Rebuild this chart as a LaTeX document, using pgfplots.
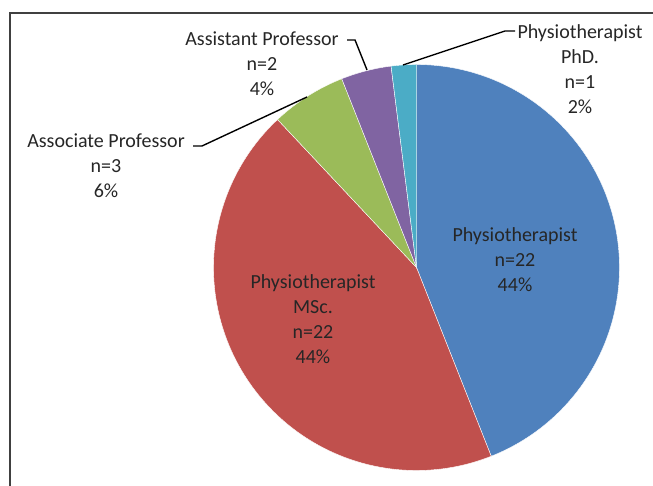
\documentclass[border=0pt]{standalone}
\usepackage{pgfplots}
\pgfplotsset{compat=1.18}
\usepackage{fontspec}
\setmainfont{Carlito}
\definecolor{cBlue}{HTML}{4F81BD}
\definecolor{cRed}{HTML}{C0504D}
\definecolor{cGreen}{HTML}{9BBB59}
\definecolor{cPurple}{HTML}{8064A2}
\definecolor{cCyan}{HTML}{4BACC6}
\definecolor{txt}{HTML}{262626}
% counts
\def\nA{22} % Physiotherapist
\def\nB{22} % Physiotherapist MSc.
\def\nC{3}  % Associate Professor
\def\nD{2}  % Assistant Professor
\def\nE{1}  % Physiotherapist PhD.
\pgfmathsetmacro\tot{\nA+\nB+\nC+\nD+\nE}
\pgfmathsetmacro\aA{90}
\pgfmathsetmacro\aB{\aA-360*\nA/\tot}
\pgfmathsetmacro\aC{\aB-360*\nB/\tot}
\pgfmathsetmacro\aD{\aC-360*\nC/\tot}
\pgfmathsetmacro\aE{\aD-360*\nD/\tot}
\pgfmathsetmacro\aF{\aE-360*\nE/\tot}
\def\cx{416.5}
\def\cy{218.5}
\def\rr{203}
\tikzset{lab/.style={font=\fontsize{20}{25}\selectfont, text=txt, align=center, inner sep=0pt}}
\begin{document}
\begin{tikzpicture}
\begin{axis}[
  width=653pt, height=486pt, scale only axis,
  xmin=0, xmax=653, ymin=0, ymax=486,
  hide axis, clip=false,
]
\addplot[fill=cBlue, draw=white, line width=0.4pt, domain=\aB:\aA, samples=120, variable=\t]
  ({\cx+\rr*cos(\t)},{\cy+\rr*sin(\t)}) -- (axis cs:\cx,\cy) -- cycle;
\addplot[fill=cRed, draw=white, line width=0.4pt, domain=\aC:\aB, samples=120, variable=\t]
  ({\cx+\rr*cos(\t)},{\cy+\rr*sin(\t)}) -- (axis cs:\cx,\cy) -- cycle;
\addplot[fill=cGreen, draw=white, line width=0.4pt, domain=\aD:\aC, samples=30, variable=\t]
  ({\cx+\rr*cos(\t)},{\cy+\rr*sin(\t)}) -- (axis cs:\cx,\cy) -- cycle;
\addplot[fill=cPurple, draw=white, line width=0.4pt, domain=\aE:\aD, samples=20, variable=\t]
  ({\cx+\rr*cos(\t)},{\cy+\rr*sin(\t)}) -- (axis cs:\cx,\cy) -- cycle;
\addplot[fill=cCyan, draw=white, line width=0.4pt, domain=\aF:\aE, samples=12, variable=\t]
  ({\cx+\rr*cos(\t)},{\cy+\rr*sin(\t)}) -- (axis cs:\cx,\cy) -- cycle;
% frame
\draw[line width=1.4pt, black!75] (axis cs:10,0) -- (axis cs:10,473) -- (axis cs:653,473);
% leader lines
\draw[line width=1.4pt, black] (axis cs:193,340) -- (axis cs:202,340) -- (axis cs:307,389);
\draw[line width=1.4pt, black] (axis cs:347,446) -- (axis cs:355,446) -- (axis cs:367,416);
\draw[line width=1.4pt, black] (axis cs:515,455) -- (axis cs:505,455) -- (axis cs:403,421);
% labels
\node[lab] at (axis cs:515,226) {Physiotherapist\\n=22\\44\%};
\node[lab] at (axis cs:313,166.5) {Physiotherapist\\MSc.\\n=22\\44\%};
\node[lab] at (axis cs:106,320.5) {Associate Professor\\n=3\\6\%};
\node[lab] at (axis cs:262,422) {Assistant Professor\\n=2\\4\%};
\node[lab] at (axis cs:580,416.5) {Physiotherapist\\PhD.\\n=1\\2\%};
\end{axis}
\pgfresetboundingbox
\path (0,0) rectangle (653pt,486pt);
\end{tikzpicture}
\end{document}
